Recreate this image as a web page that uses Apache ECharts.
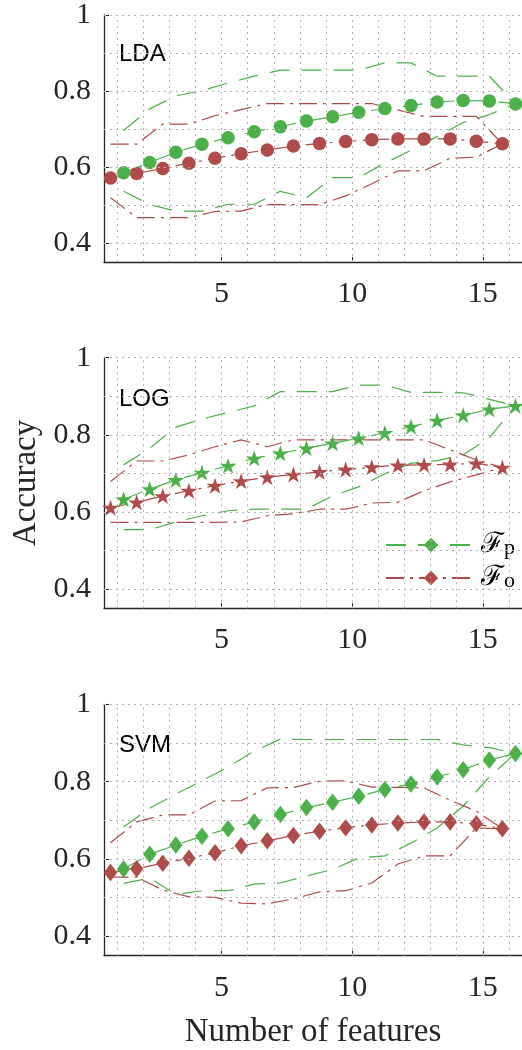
<!DOCTYPE html>
<html>
<head>
<meta charset="utf-8">
<script src="https://cdn.jsdelivr.net/npm/echarts@6/dist/echarts.min.js"></script>
<style>
html,body{margin:0;padding:0;background:#fff;}
#chart{width:522px;height:1050px;}
</style>
</head>
<body>
<div id="chart"></div>
<script>
// ---- data ----
const features = [1,2,3,4,5,6,7,8,9,10,11,12,13,14,15,16];
const panelNames = ['LDA','LOG','SVM'];
const xTickLabels = [5,10,15];
const yTickLabels = [0.4,0.6,0.8,1];
const xGridValues = [1,2,3,4,5,6,7,8,9,10,11,12,13,14,15,16];
const yGridValues = [0.4,0.5,0.6,0.7,0.8,0.9,1.0];

// LDA
const lda_pMean = [0.585,0.612,0.639,0.660,0.677,0.693,0.706,0.721,0.732,0.744,0.754,0.762,0.771,0.775,0.774,0.766];
const lda_pHi   = [0.696,0.753,0.787,0.801,0.821,0.839,0.855,0.855,0.855,0.855,0.874,0.874,0.839,0.839,0.839,0.766];
const lda_pLo   = [0.536,0.501,0.484,0.484,0.502,0.502,0.536,0.519,0.572,0.572,0.610,0.644,0.680,0.717,0.738,0.766];
const lda_oMean = [0.571,0.583,0.596,0.610,0.623,0.635,0.645,0.655,0.662,0.667,0.672,0.674,0.674,0.674,0.668,0.661];
const lda_oHi   = [0.660,0.660,0.713,0.713,0.735,0.751,0.767,0.767,0.767,0.767,0.767,0.750,0.733,0.733,0.733,0.661];
const lda_oLo   = [0.519,0.467,0.467,0.467,0.483,0.484,0.501,0.501,0.501,0.524,0.556,0.590,0.590,0.623,0.626,0.661];
// LOG
const log_pMean = [0.633,0.659,0.683,0.702,0.720,0.739,0.752,0.765,0.778,0.791,0.805,0.821,0.837,0.851,0.866,0.875];
const log_pHi   = [0.722,0.765,0.820,0.841,0.858,0.875,0.912,0.912,0.912,0.929,0.929,0.910,0.910,0.909,0.892,0.875];
const log_pLo   = [0.554,0.554,0.574,0.590,0.603,0.607,0.607,0.607,0.642,0.665,0.699,0.726,0.733,0.748,0.792,0.875];
const log_oMean = [0.611,0.625,0.641,0.655,0.668,0.680,0.690,0.697,0.704,0.710,0.716,0.721,0.722,0.723,0.726,0.715];
const log_oHi   = [0.679,0.732,0.732,0.748,0.769,0.787,0.769,0.787,0.787,0.787,0.787,0.787,0.787,0.761,0.735,0.715];
const log_oLo   = [0.573,0.573,0.573,0.573,0.573,0.574,0.590,0.595,0.607,0.607,0.623,0.625,0.655,0.678,0.696,0.715];
// SVM
const svm_pMean = [0.574,0.612,0.636,0.659,0.678,0.696,0.715,0.733,0.747,0.762,0.780,0.794,0.812,0.831,0.856,0.873];
const svm_pHi   = [0.683,0.731,0.768,0.802,0.838,0.879,0.910,0.909,0.909,0.909,0.909,0.909,0.909,0.895,0.888,0.873];
const svm_pLo   = [0.537,0.551,0.508,0.518,0.518,0.535,0.538,0.556,0.573,0.603,0.608,0.641,0.680,0.737,0.812,0.873];
const svm_oMean = [0.565,0.575,0.589,0.602,0.616,0.634,0.647,0.661,0.672,0.681,0.688,0.693,0.696,0.696,0.691,0.678];
const svm_oHi   = [0.642,0.696,0.714,0.714,0.750,0.751,0.784,0.785,0.801,0.802,0.786,0.785,0.784,0.752,0.724,0.678];
const svm_oLo   = [0.553,0.553,0.520,0.502,0.501,0.486,0.484,0.497,0.515,0.518,0.538,0.587,0.608,0.608,0.680,0.678];

// ---- styling ----
const GREEN = '#4cb04a';
const RED = '#b04b4b';
const AXIS = '#262626';
const GREEN_DASH = [20, 12];
const RED_DASH = [18, 6, 3, 6];
const P_OFFSET = 0.25, O_OFFSET = -0.25;

const starPath = 'path://M50 0 L61.23 34.55 L97.55 34.55 L68.17 55.9 L79.39 90.45 L50 69.1 L20.61 90.45 L31.83 55.9 L2.45 34.55 L38.77 34.55 Z';

const panels = [
  {pMean: lda_pMean, pHi: lda_pHi, pLo: lda_pLo, oMean: lda_oMean, oHi: lda_oHi, oLo: lda_oLo,
   symbol: 'circle', size: 13.5},
  {pMean: log_pMean, pHi: log_pHi, pLo: log_pLo, oMean: log_oMean, oHi: log_oHi, oLo: log_oLo,
   symbol: starPath, size: [17, 16]},
  {pMean: svm_pMean, pHi: svm_pHi, pLo: svm_pLo, oMean: svm_oMean, oHi: svm_oHi, oLo: svm_oLo,
   symbol: 'diamond', size: [13.5, 17.5]}
];
const gridTops = [12, 357.7, 704.3];
const gridHeights = [250, 250.6, 251.4];

const pts = (arr, off) => features.map((f, i) => [f + off, arr[i]]);

const grids = [], xAxes = [], yAxes = [], series = [], graphics = [];
panels.forEach((p, k) => {
  grids.push({left: 104, width: 424, top: gridTops[k], height: gridHeights[k], containLabel: false});
  xAxes.push({
    type: 'value', gridIndex: k, min: 0.5, max: 16.5,
    axisLine: {show: true, onZero: false, lineStyle: {color: AXIS, width: 1.3}},
    axisTick: {show: true, inside: true, length: 5, customValues: xTickLabels, lineStyle: {color: AXIS}},
    axisLabel: {show: true, customValues: xTickLabels, margin: 17, color: AXIS,
      fontFamily: 'Liberation Serif', fontSize: 30},
    splitLine: {show: false},
    name: k === 2 ? 'Number of features' : '',
    nameLocation: 'middle', nameGap: 60,
    nameTextStyle: {fontFamily: 'Liberation Serif', fontSize: 33, color: AXIS}
  });
  yAxes.push({
    type: 'value', gridIndex: k, min: 0.35, max: 1,
    axisLine: {show: true, onZero: false, lineStyle: {color: AXIS, width: 1.3}},
    axisTick: {show: true, inside: true, length: 5, customValues: yTickLabels, lineStyle: {color: AXIS}},
    axisLabel: {show: true, customValues: yTickLabels, margin: 13, color: AXIS,
      fontFamily: 'Liberation Serif', fontSize: 30, formatter: v => String(+v.toFixed(1))},
    splitLine: {show: false},
    name: k === 1 ? 'Accuracy' : '',
    nameLocation: 'middle', nameGap: 60,
    nameTextStyle: {fontFamily: 'Liberation Serif', fontSize: 33, color: AXIS}
  });
  // dotted grid lines
  series.push({
    type: 'line', xAxisIndex: k, yAxisIndex: k, data: [], silent: true, z: 1,
    markLine: {
      silent: true, symbol: ['none', 'none'], label: {show: false}, animation: false,
      lineStyle: {type: [2, 4], color: '#b0b0b0', width: 1},
      emphasis: {disabled: true},
      data: xGridValues.map(v => ({xAxis: v})).concat(yGridValues.map(v => ({yAxis: v})))
    }
  });
  const band = (arr, off, color, dash) => ({
    type: 'line', xAxisIndex: k, yAxisIndex: k, data: pts(arr, off), symbol: 'none',
    lineStyle: {color, width: 1.2, type: dash}, z: 2, silent: true
  });
  series.push(band(p.pHi, P_OFFSET, GREEN, GREEN_DASH));
  series.push(band(p.pLo, P_OFFSET, GREEN, GREEN_DASH));
  series.push(band(p.oHi, O_OFFSET, RED, RED_DASH));
  series.push(band(p.oLo, O_OFFSET, RED, RED_DASH));
  const mean = (arr, off, color, dash) => ({
    type: 'line', xAxisIndex: k, yAxisIndex: k, data: pts(arr, off),
    symbol: p.symbol, symbolSize: p.size, showAllSymbol: true,
    itemStyle: {color, borderWidth: 0},
    lineStyle: {color, width: 1.2, type: dash}, z: 3, silent: true
  });
  series.push(mean(p.oMean, O_OFFSET, RED, RED_DASH));
  series.push(mean(p.pMean, P_OFFSET, GREEN, GREEN_DASH));
});

// legend-only series (in LOG panel)
series.push({name: 'Fp', type: 'line', xAxisIndex: 1, yAxisIndex: 1, data: [],
  symbol: 'diamond', itemStyle: {color: GREEN}, lineStyle: {color: GREEN, width: 1.2, type: GREEN_DASH}});
series.push({name: 'Fo', type: 'line', xAxisIndex: 1, yAxisIndex: 1, data: [],
  symbol: 'diamond', itemStyle: {color: RED}, lineStyle: {color: RED, width: 1.2, type: RED_DASH}});

const labelCenters = [54, 399, 745.5];
panelNames.forEach((n, k) => {
  graphics.push({type: 'text', x: 119, y: labelCenters[k], silent: true,
    style: {text: n, font: '24px "Liberation Sans"', fill: '#000', textVerticalAlign: 'middle', verticalAlign: 'middle'}});
});

const chart = echarts.init(document.getElementById('chart'), null, {renderer: 'canvas'});
chart.setOption({
  animation: false,
  backgroundColor: '#fff',
  grid: grids, xAxis: xAxes, yAxis: yAxes, series,
  graphic: graphics,
  legend: {
    data: ['Fp', 'Fo'], orient: 'vertical', left: 380, top: 526,
    itemWidth: 90, itemHeight: 18, itemGap: 5, selectedMode: false,
    formatter: n => n === 'Fp' ? '{f|ℱ}{s|p}' : '{f|ℱ}{s|o}',
    textStyle: {
      color: '#000',
      rich: {
        f: {fontFamily: 'DejaVu Serif', fontSize: 28, color: '#000', lineHeight: 28, verticalAlign: 'top'},
        s: {fontFamily: 'Liberation Serif', fontSize: 22, color: '#000', lineHeight: 22, verticalAlign: 'bottom', padding: [6, 0, 0, 0]}
      }
    }
  }
});
</script>
</body>
</html>
